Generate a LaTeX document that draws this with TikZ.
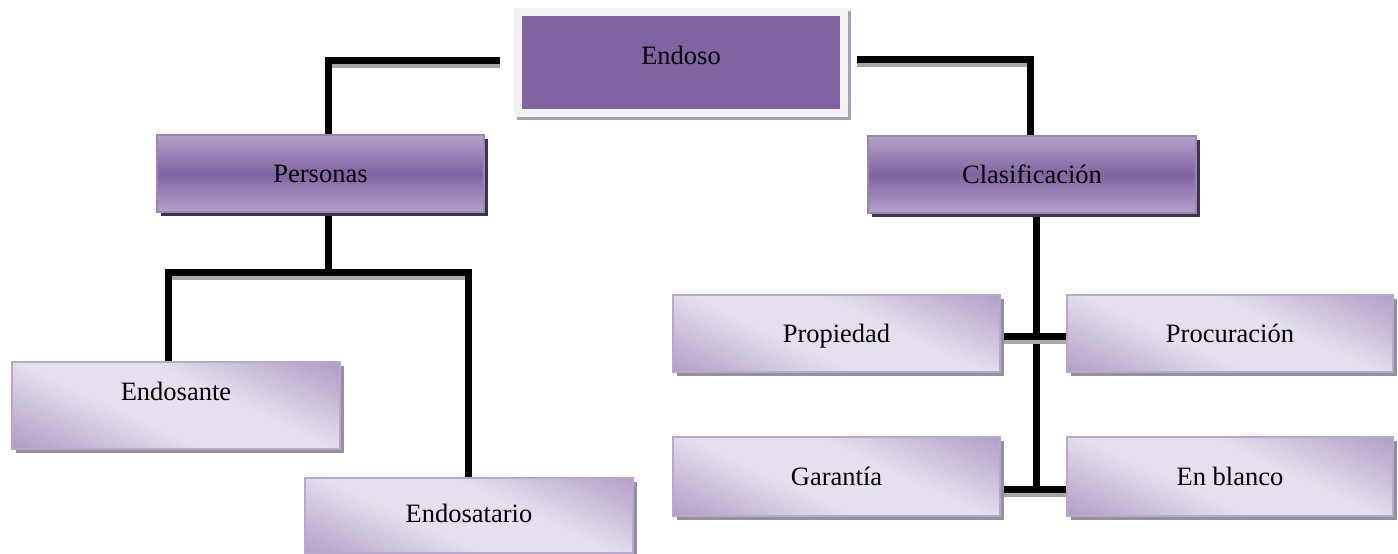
\documentclass[tikz,border=0pt]{standalone}
\usepackage{fontspec}
\setmainfont{Liberation Serif}
\usetikzlibrary{shadows}
\pgfdeclarelayer{bg}
\pgfsetlayers{bg,main}
\definecolor{endp}{HTML}{8064A2}
\definecolor{frame}{HTML}{F2F2F2}
\definecolor{eshadow}{HTML}{A59FB8}
\definecolor{pl}{HTML}{B3A2C8}
\definecolor{pb}{HTML}{9A86B6}
\definecolor{pshadow}{HTML}{3F3151}
\definecolor{lavl}{HTML}{E6E0EE}
\definecolor{lavd}{HTML}{AF9EC6}
\definecolor{lavb}{HTML}{B8A9CC}
\definecolor{lshadow}{HTML}{9590A0}
\definecolor{lshad}{HTML}{A6A6A6}
\pgfdeclarehorizontalshading{lavdiag}{100bp}{color(0bp)=(lavd); color(34bp)=(lavd); color(46bp)=(lavl); color(54bp)=(lavl); color(66bp)=(lavd); color(100bp)=(lavd)}
\newcommand\bt[2][-3]{\raisebox{#1pt}[18pt][6pt]{#2}}
\begin{document}
\begin{tikzpicture}[x=1pt,y=1pt,
  box/.style={rectangle, minimum width=328pt, minimum height=77pt, inner sep=0pt,
    font=\fontsize{26.5}{30}\selectfont, text=black},
  midbox/.style={box, top color=pl, bottom color=pl, middle color=endp, draw=pb, line width=1.2pt,
    drop shadow={shadow xshift=4pt, shadow yshift=-4pt, fill=pshadow, opacity=1}},
  lowbox/.style={box, fill=lavl, draw=lavb, line width=1.2pt,
    path picture={\shade[shading=lavdiag, transform canvas={rotate around={65:(path picture bounding box.center)}}]
      ([shift={(-120pt,-220pt)}]path picture bounding box.center) rectangle ([shift={(120pt,220pt)}]path picture bounding box.center);},
    drop shadow={shadow xshift=4pt, shadow yshift=-4pt, fill=lshadow, opacity=1}},
  topbox/.style={box, minimum width=334pt, minimum height=109pt, fill=frame,
    drop shadow={shadow xshift=3pt, shadow yshift=-3pt, fill=eshadow, opacity=1},
    path picture={\fill[endp] ([shift={(8pt,-8pt)}]path picture bounding box.north west) rectangle ([shift={(-8pt,8pt)}]path picture bounding box.south east);}},
  conn/.style={line width=7pt, black,
    preaction={draw=lshad, line width=7pt, transform canvas={yshift=-4pt}}}
]
\useasboundingbox (0,0) rectangle (1398,-554);

\node[topbox] (endoso) at (681,-62.5) {\bt[4]{Endoso}};
\node[midbox, minimum width=327pt] (personas) at (320.5,-173.5) {\bt{Personas}};
\node[midbox] (clas) at (1032,-174.5) {\bt{Clasificación}};
\node[lowbox, minimum height=87pt] (endosante) at (176,-405.5) {\bt[11]{Endosante}};
\node[lowbox, minimum height=75pt] (endosatario) at (469,-515.5) {\bt[-1]{Endosatario}};
\node[lowbox, minimum width=327pt] (propiedad) at (836.5,-333.5) {\bt{Propiedad}};
\node[lowbox, minimum width=326pt] (procuracion) at (1230,-333.5) {\bt{Procuración}};
\node[lowbox, minimum width=327pt, minimum height=79pt] (garantia) at (836.5,-476.5) {\bt{Garantía}};
\node[lowbox, minimum width=326pt, minimum height=79pt] (enblanco) at (1230,-476.5) {\bt{En blanco}};

\coordinate (pj) at (328,-272);
\coordinate (cb) at (1036,-492.5);

\begin{pgfonlayer}{bg}
\draw[conn] ([xshift=-14pt,yshift=2.5pt]endoso.west) -| ([xshift=7.5pt]personas.north);
\draw[conn] ([xshift=9pt,yshift=3.5pt]endoso.east) -| ([xshift=-2pt]clas.north);
\draw[conn] ([xshift=7.5pt]personas.south) -- (pj);
\draw[conn] ([xshift=-8pt]endosante.north) |- (pj) -| ([xshift=-1pt]endosatario.north);
\draw[conn] ([xshift=4pt]clas.south) -- (cb);
\draw[conn] ([yshift=-2.5pt]propiedad.east) -- ([yshift=-2.5pt]procuracion.west);
\draw[conn] ([yshift=-12.5pt]garantia.east) -- ([yshift=-12.5pt]enblanco.west);
\end{pgfonlayer}
\end{tikzpicture}
\end{document}
